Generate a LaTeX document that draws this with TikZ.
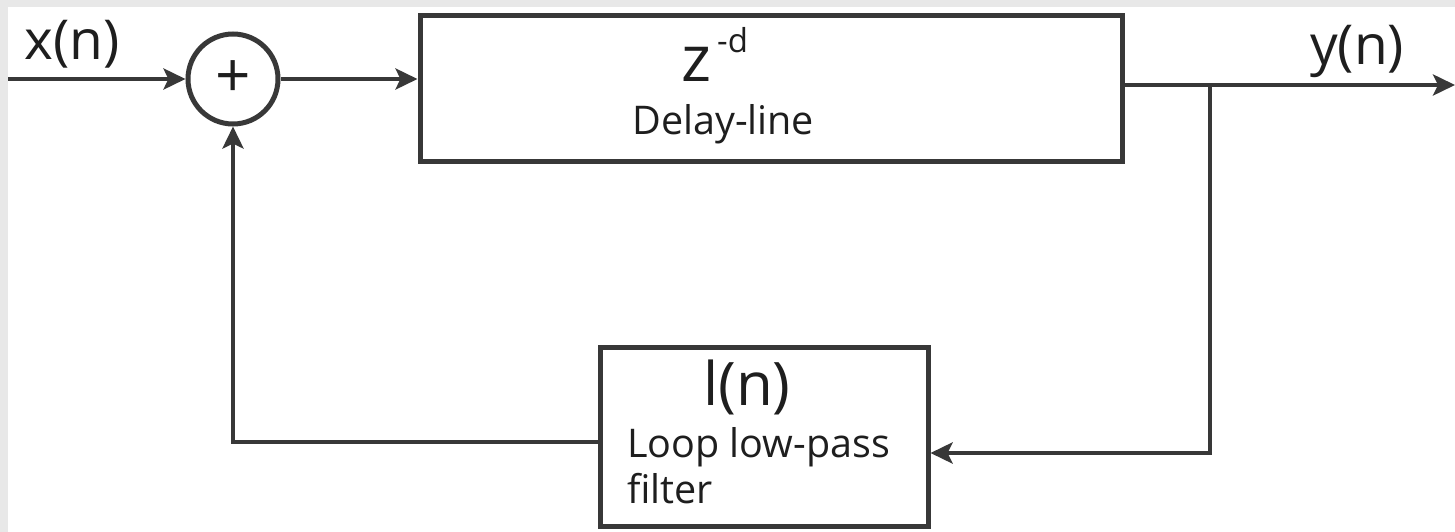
\documentclass[tikz,border=0pt]{standalone}
\usepackage{fontspec}
\setmainfont{Open Sans}
\usetikzlibrary{arrows.meta}
\definecolor{ln}{HTML}{383838}
\definecolor{tx}{HTML}{1E1E1E}
\definecolor{framecol}{HTML}{E8E8E8}
\begin{document}
\begin{tikzpicture}[x=1pt,y=-1pt,
  wire/.style={draw=ln,line width=4.5pt},
  arr/.style={wire,-{Stealth[length=22pt,width=21pt,inset=5pt]}},
  blk/.style={draw=ln,line width=5pt,fill=white,inner sep=0pt},
  lbl/.style={text=tx,inner sep=0pt}]
\fill[framecol] (0,0) rectangle (1455,532);
\fill[white] (8,7) rectangle (1455,532);
\useasboundingbox (0,0) rectangle (1455,532);
% blocks
\node[blk, circle, minimum size=90pt, text=tx, font=\fontsize{62}{62}\selectfont] (sum) at (233,79) {+};
\node[blk, minimum width=702pt, minimum height=145pt] (delay) at (771,88.5) {};
\node[blk, minimum width=328pt, minimum height=179pt] (filter) at (764,436.5) {};
% labels
\node[lbl, anchor=base west, font=\fontsize{55}{55}\selectfont] (xl) at (24,60) {x(n)};
\node[lbl, anchor=base west, font=\fontsize{55}{55}\selectfont] (yl) at (1310,65) {y(n)};
\node[lbl, anchor=base west, font=\fontsize{64}{64}\selectfont] (zd) at (681,82) {z\hspace{6pt}\raisebox{29pt}{\fontsize{33}{33}\selectfont -d}};
\node[lbl, anchor=base west, font=\fontsize{39.5}{39.5}\selectfont] (dl) at (632,135) {Delay-line};
\node[lbl, anchor=base west, font=\fontsize{60}{60}\selectfont] (ln) at (703,405) {l(n)};
\node[lbl, anchor=base west, font=\fontsize{39.5}{39.5}\selectfont] (lp1) at (627,457) {Loop low-pass};
\node[lbl, anchor=base west, font=\fontsize{39.5}{39.5}\selectfont] (lp2) at (627,503) {filter};
% connectors
\coordinate (in) at (8,79);
\coordinate (out) at (1455,85);
\coordinate (br) at (1210,85);
\coordinate (brb) at (1210,453);
\coordinate (fb) at (233,442);
\draw[arr] (in) -- (sum.west);
\draw[arr] (sum.east) -- (sum.east -| delay.west);
\draw[wire] (delay.east |- out) -- (br);
\draw[arr] (br) -- (out);
\draw[arr] (br) -- (brb) -- (filter.east |- brb);
\draw[arr] (filter.west |- fb) -- (fb) -- (sum.south);
\end{tikzpicture}
\end{document}
